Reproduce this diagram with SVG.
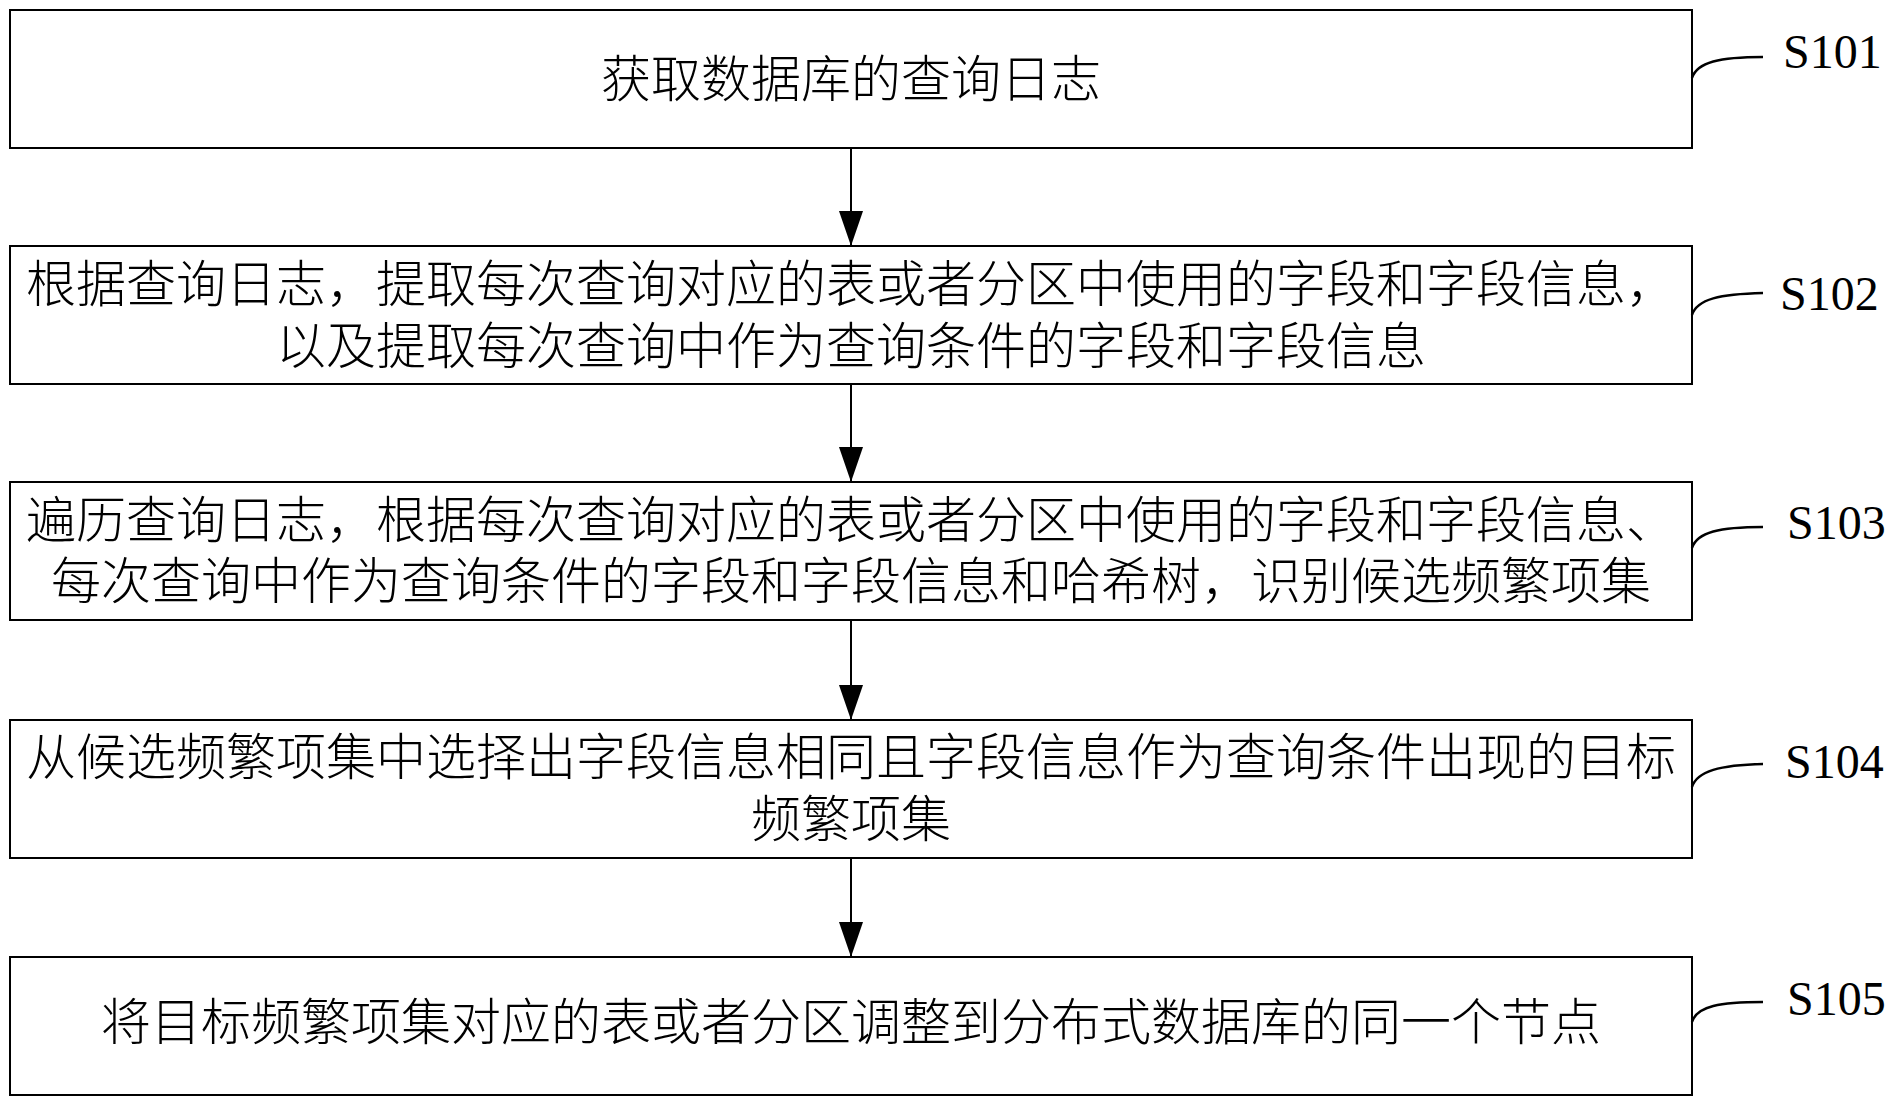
<svg xmlns="http://www.w3.org/2000/svg" width="1894" height="1106" viewBox="0 0 1894 1106">
<style>
.box{fill:#fff;stroke:#000;stroke-width:2}
.t{font-family:"Noto Sans CJK SC","Noto Sans CJK JP",sans-serif;font-size:50px;font-weight:300;fill:#000;text-anchor:middle}
.lbl{font-family:"Liberation Serif",serif;font-size:48px;fill:#000}
.conn{stroke:#000;stroke-width:2;fill:none}
.lead{stroke:#000;stroke-width:2.5;fill:none}
</style>
<defs>
<marker id="ah" markerWidth="35" markerHeight="24" refX="35" refY="12" orient="auto" markerUnits="userSpaceOnUse" viewBox="0 0 35 24">
<path d="M0,0 L35,12 L0,24 Z" fill="#000"/>
</marker>
</defs>
<rect width="1894" height="1106" fill="#fff"/>
<g id="connectors">
<line class="conn" x1="851" y1="148" x2="851" y2="246" marker-end="url(#ah)"/>
<line class="conn" x1="851" y1="384" x2="851" y2="482" marker-end="url(#ah)"/>
<line class="conn" x1="851" y1="620" x2="851" y2="720" marker-end="url(#ah)"/>
<line class="conn" x1="851" y1="858" x2="851" y2="957" marker-end="url(#ah)"/>
</g>
<g id="S101">
<rect class="box" x="10" y="10" width="1682" height="138"/>
<text class="t" x="851" y="97">获取数据库的查询日志</text>
<path class="lead" d="M1692,78 C1697,62 1720,57 1763,57"/>
<text class="lbl" x="1783" y="68">S101</text>
</g>
<g id="S102">
<rect class="box" x="10" y="246" width="1682" height="138"/>
<text class="t"><tspan x="851" y="302">根据查询日志，提取每次查询对应的表或者分区中使用的字段和字段信息，</tspan><tspan x="851" y="364">以及提取每次查询中作为查询条件的字段和字段信息</tspan></text>
<path class="lead" d="M1692,315 C1697,299 1720,294 1763,293"/>
<text class="lbl" x="1780" y="310">S102</text>
</g>
<g id="S103">
<rect class="box" x="10" y="482" width="1682" height="138"/>
<text class="t"><tspan x="851" y="538">遍历查询日志，根据每次查询对应的表或者分区中使用的字段和字段信息、</tspan><tspan x="851" y="599">每次查询中作为查询条件的字段和字段信息和哈希树，识别候选频繁项集</tspan></text>
<path class="lead" d="M1692,548 C1697,532 1720,527 1763,527"/>
<text class="lbl" x="1787" y="539">S103</text>
</g>
<g id="S104">
<rect class="box" x="10" y="720" width="1682" height="138"/>
<text class="t"><tspan x="851" y="775">从候选频繁项集中选择出字段信息相同且字段信息作为查询条件出现的目标</tspan><tspan x="851" y="837">频繁项集</tspan></text>
<path class="lead" d="M1692,787 C1697,771 1720,765 1763,764"/>
<text class="lbl" x="1785" y="778">S104</text>
</g>
<g id="S105">
<rect class="box" x="10" y="957" width="1682" height="138"/>
<text class="t" x="851" y="1040">将目标频繁项集对应的表或者分区调整到分布式数据库的同一个节点</text>
<path class="lead" d="M1692,1022 C1697,1006 1720,1002 1763,1002"/>
<text class="lbl" x="1787" y="1015">S105</text>
</g>
</svg>
